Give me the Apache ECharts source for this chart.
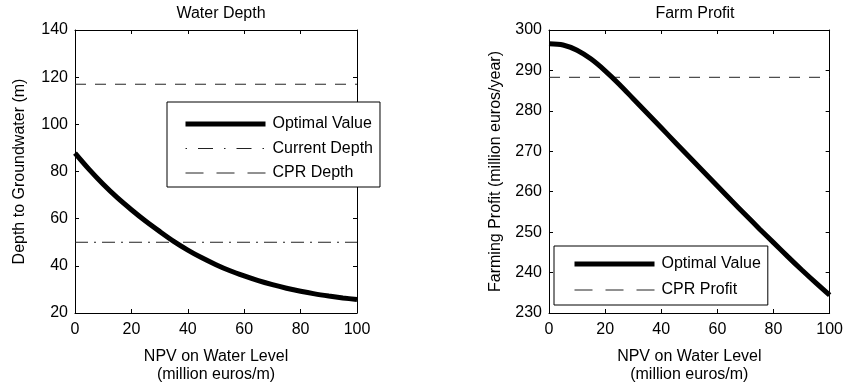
<!DOCTYPE html>
<html>
<head>
<meta charset="utf-8">
<script src="https://cdn.jsdelivr.net/npm/echarts@6/dist/echarts.min.js"></script>
<style>
  html, body { margin: 0; padding: 0; background: #fff; }
  #chart { width: 846px; height: 389px; }
</style>
</head>
<body>
<div id="chart"></div>
<script>
// NPV on water level (million euros/m)
const npv = [0, 5, 10, 15, 20, 25, 30, 35, 40, 45, 50, 55, 60, 65, 70, 75, 80, 85, 90, 95, 100];
// Water depth panel (m)
const depthOptimal = [87.8, 80.9, 74.6, 68.9, 63.8, 59.0, 54.6, 50.4, 46.7, 43.4, 40.5,
                      37.9, 35.7, 33.7, 32.0, 30.5, 29.2, 28.1, 27.2, 26.4, 25.7];
const refX = [0, 100];
const currentDepth = [50, 50];
const cprDepth = [117, 117];
// Farm profit panel (million euros/year)
const profitOptimal = [296.6, 296.3, 295.0, 292.8, 289.9, 286.6, 283.0, 279.4, 275.8, 272.2, 268.6,
                       265.0, 261.4, 257.8, 254.3, 250.8, 247.4, 244.0, 240.7, 237.5, 234.4];
const cprProfit = [288.3, 288.3];

const FONT = "'Liberation Sans', Arial, sans-serif";
const txt = { color: "#000", fontSize: 16, fontFamily: FONT };
const REF = "#222";
const DASH = [11, 9];
const DASH_DOT = [13, 6, 2, 6];
// legend samples use longer dashes, like the reference
const LEG_DASH = [18, 13];
const LEG_DASH_DOT = [1.5, 11, 15, 11];

const pairs = (xs, ys) => xs.map((x, i) => [x, ys[i]]);

function xAxes(grid) {
  return [
    {
      type: "value", gridIndex: grid, position: "bottom", min: 0, max: 100, interval: 20,
      name: "NPV on Water Level\n(million euros/m)", nameLocation: "middle", nameGap: 35,
      nameTextStyle: { ...txt, lineHeight: 18 },
      axisLine: { onZero: false, lineStyle: { color: "#000", width: 1 } },
      axisTick: { inside: true, length: 4, lineStyle: { color: "#000" } },
      axisLabel: { ...txt, margin: 9 },
      splitLine: { show: false },
    },
    {
      type: "value", gridIndex: grid, position: "top", min: 0, max: 100, interval: 20,
      axisLine: { onZero: false, lineStyle: { color: "#000", width: 1 } },
      axisTick: { inside: true, length: 4, lineStyle: { color: "#000" } },
      axisLabel: { show: false },
      splitLine: { show: false },
    },
  ];
}

function yAxes(grid, min, max, interval, name, gap) {
  return [
    {
      type: "value", gridIndex: grid, position: "left", min, max, interval,
      name, nameLocation: "middle", nameGap: gap, nameTextStyle: txt,
      axisLine: { onZero: false, show: true, lineStyle: { color: "#000", width: 1 } },
      axisTick: { show: true, inside: true, length: 4, lineStyle: { color: "#000" } },
      axisLabel: { ...txt, margin: 7 },
      splitLine: { show: false },
    },
    {
      type: "value", gridIndex: grid, position: "right", min, max, interval,
      axisLine: { onZero: false, show: true, lineStyle: { color: "#000", width: 1 } },
      axisTick: { show: true, inside: true, length: 4, lineStyle: { color: "#000" } },
      axisLabel: { show: false },
      splitLine: { show: false },
    },
  ];
}

const legendBase = {
  orient: "vertical", itemWidth: 80, itemHeight: 16,
  backgroundColor: "#fff", borderColor: "#000", borderWidth: 1,
  itemStyle: { opacity: 0 },
  lineStyle: { width: "inherit", type: "inherit", color: "inherit" },
  selectedMode: false,
};

const chart = echarts.init(document.getElementById("chart"), null, { renderer: "canvas" });

chart.setOption({
  animation: false,
  backgroundColor: "#fff",
  title: [
    { text: "Water Depth", left: 216, top: 1, textAlign: "center", textStyle: { ...txt, fontWeight: "normal" } },
    { text: "Farm Profit", left: 690, top: 1, textAlign: "center", textStyle: { ...txt, fontWeight: "normal" } },
  ],
  grid: [
    { left: 75, right: 489, top: 30, bottom: 74 },
    { left: 549, right: 14, top: 30, bottom: 74 },
  ],
  xAxis: [...xAxes(0), ...xAxes(1)],
  yAxis: [
    ...yAxes(0, 20, 140, 20, "Depth to Groundwater (m)", 47),
    ...yAxes(1, 230, 300, 10, "Farming Profit (million euros/year)", 45),
  ],
  legend: [
    {
      ...legendBase,
      data: [
        { name: "Optimal Value" },
        { name: "Current Depth", lineStyle: { type: LEG_DASH_DOT } },
        { name: "CPR Depth", lineStyle: { type: LEG_DASH } },
      ],
      left: 167, top: 102,
      padding: [14, 7, 6, 16], itemGap: 8.5,
      textStyle: { ...txt, padding: [0, 0, 0, 2] },
    },
    {
      ...legendBase,
      data: [
        { name: "Optimal Value" },
        { name: "CPR Profit", lineStyle: { type: LEG_DASH } },
      ],
      left: 554, top: 246,
      padding: [10, 7, 7, 18], itemGap: 10,
      textStyle: { ...txt, padding: [0, 0, 0, 2] },
    },
  ],
  series: [
    {
      name: "CPR Depth", type: "line", xAxisIndex: 0, yAxisIndex: 0,
      data: pairs(refX, cprDepth), symbol: "none",
      lineStyle: { color: REF, width: 1, type: DASH }, itemStyle: { color: REF }, z: 2,
    },
    {
      name: "Current Depth", type: "line", xAxisIndex: 0, yAxisIndex: 0,
      data: pairs(refX, currentDepth), symbol: "none",
      lineStyle: { color: REF, width: 1, type: DASH_DOT }, itemStyle: { color: REF }, z: 2,
    },
    {
      name: "Optimal Value", type: "line", xAxisIndex: 0, yAxisIndex: 0,
      data: pairs(npv, depthOptimal), symbol: "none", smooth: 0.3,
      lineStyle: { color: "#000", width: 5 }, itemStyle: { color: "#000" }, z: 3,
    },
    {
      name: "CPR Profit", type: "line", xAxisIndex: 2, yAxisIndex: 2,
      data: pairs(refX, cprProfit), symbol: "none",
      lineStyle: { color: REF, width: 1, type: DASH }, itemStyle: { color: REF }, z: 2,
    },
    {
      name: "Optimal Value", type: "line", xAxisIndex: 2, yAxisIndex: 2,
      data: pairs(npv, profitOptimal), symbol: "none", smooth: 0.3,
      lineStyle: { color: "#000", width: 5 }, itemStyle: { color: "#000" }, z: 3,
    },
  ],
});
</script>
</body>
</html>
